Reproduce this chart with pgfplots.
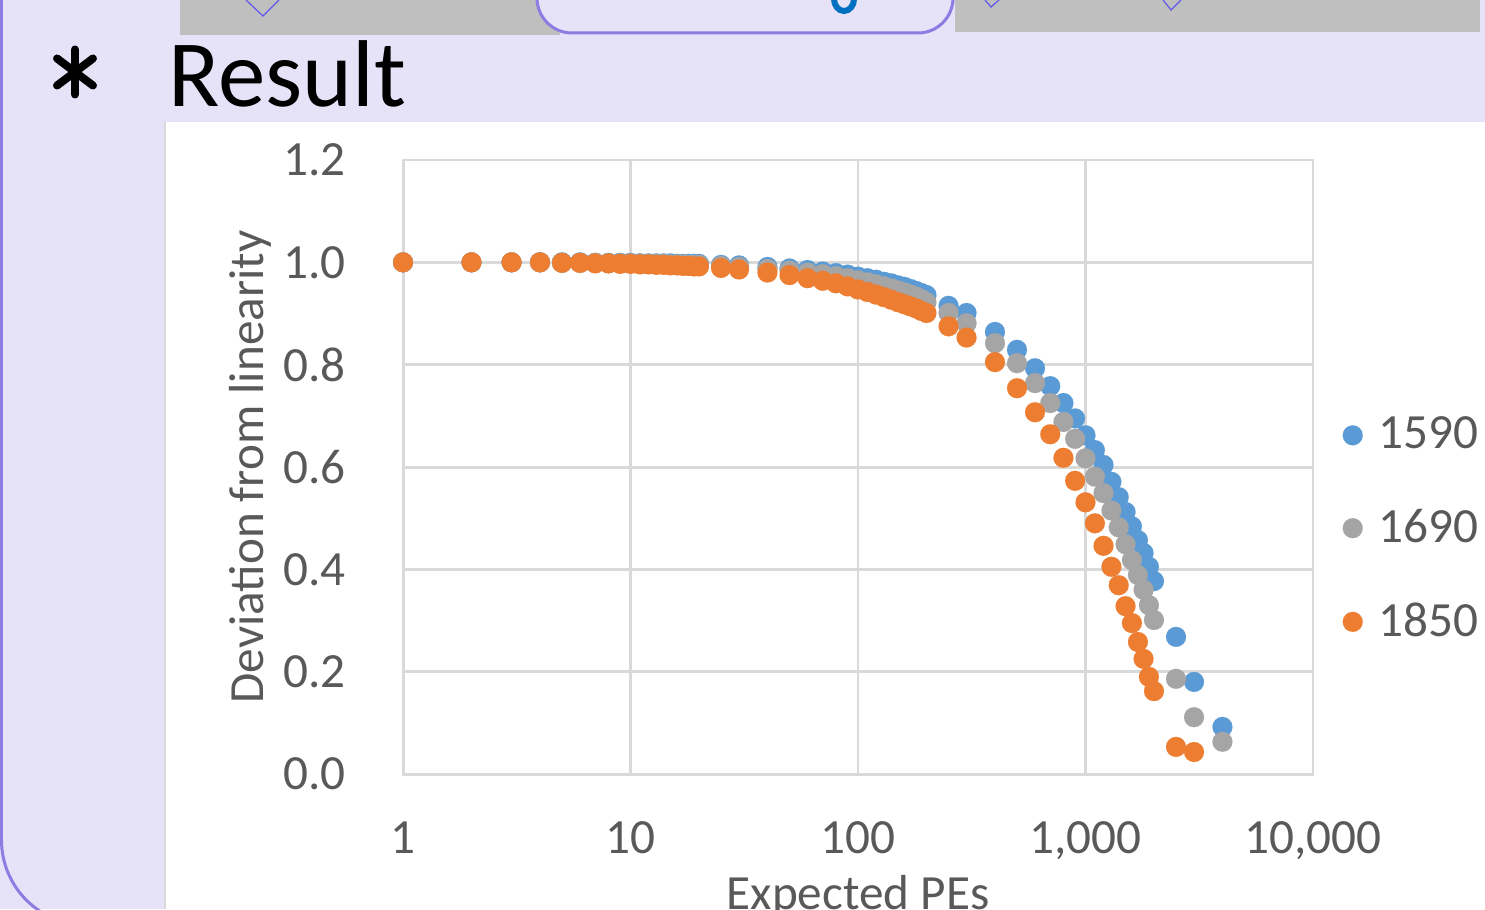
\documentclass[border=0pt]{standalone}
\usepackage{fontspec}
\setmainfont{Carlito}
\usepackage{pgfplots}
\pgfplotsset{compat=1.18}
\definecolor{cblue}{HTML}{5B9BD5}
\definecolor{cgray}{HTML}{A5A5A5}
\definecolor{corange}{HTML}{ED7D31}
\definecolor{ctext}{HTML}{595959}
\definecolor{cgrid}{HTML}{D9D9D9}
\definecolor{lav}{HTML}{E6E3F8}
\definecolor{purp}{HTML}{8E7CE3}
\definecolor{barg}{HTML}{BFBFBF}
\definecolor{glyph}{HTML}{0070C0}
\newcommand{\chartfont}{\fontsize{14pt}{16pt}\selectfont}
\pgfplotsset{dotlegend/.style={legend image code/.code={\draw[##1] plot coordinates {(0cm,0cm)};}}}
\begin{document}
\begin{tikzpicture}
\useasboundingbox (0,0) rectangle (14.85,9.09);
\clip (0,0) rectangle (14.85,9.09);
% slide background
\fill[lav] (0,0) rectangle (14.85,9.09);
\fill[white] (1.65,0) rectangle (14.85,7.87);
\draw[cgrid, line width=0.02cm] (1.645,0) -- (1.645,7.87);
\draw[purp, line width=0.03cm] (0.015,9.2) -- (0.015,0.69) arc[start angle=180, end angle=270, radius=0.85];
\fill[barg] (1.80,9.2) rectangle (5.60,8.74);
\fill[barg] (9.55,9.2) rectangle (14.80,8.77);
\draw[purp, line width=0.03cm, fill=lav, rounded corners=0.35cm] (5.37,9.6) -- (5.37,8.76) -- (9.53,8.76) -- (9.53,9.6);
\draw[purp!70!blue, line width=0.012cm] (2.46,9.09) -- (2.63,8.93) -- (2.79,9.09);
\draw[purp!70!blue, line width=0.012cm] (9.85,9.09) -- (9.91,9.02) -- (9.99,9.09);
\draw[purp!70!blue, line width=0.012cm] (11.63,9.09) -- (11.71,8.99) -- (11.81,9.09);
\draw[glyph, line width=0.06cm] (8.44,9.10) ellipse[x radius=0.10, y radius=0.12];
\foreach \a in {90,37,143} \draw[black, line width=0.08cm, line cap=round] (0.75,8.37) ++(\a:0.225) -- ++(\a+180:0.45);
\node[anchor=base west, inner sep=0pt, font=\fontsize{27pt}{30pt}\selectfont] at (1.68,8.02) {Result};
\begin{axis}[
  at={(4.03cm,1.35cm)}, anchor=south west,
  scale only axis, width=9.10cm, height=6.14cm,
  xmode=log, xmin=1, xmax=10000, ymin=0, ymax=1.2,
  xtick={1,10,100,1000,10000},
  xticklabels={1,10,100,{1,000},{10,000}},
  ytick={0,0.2,0.4,0.6,0.8,1.0,1.2},
  yticklabels={0.0,0.2,0.4,0.6,0.8,1.0,1.2},
  minor x tick num=0, major tick length=0pt, minor tick length=0pt,
  xmajorgrids, ymajorgrids,
  major grid style={cgrid, line width=0.85pt},
  axis line style={cgrid, line width=0.85pt},
  tick label style={font=\chartfont, text=ctext},
  yticklabel style={xshift=-0.45cm},
  xticklabel style={yshift=-0.35cm},
  xlabel={Expected PEs}, ylabel={Deviation from linearity},
  every axis x label/.style={at={(axis description cs:0.5,0)}, anchor=north, yshift=-0.89cm, font=\chartfont, text=ctext},
  every axis y label/.style={at={(axis description cs:-0.131,0.5)}, anchor=south, rotate=90, font=\chartfont, text=ctext},
  clip=false,
  legend style={draw=none, fill=none, at={(1.0319,0.399)}, anchor=west, inner sep=0pt,
    row sep=0.55cm, column sep=0.16cm, font=\chartfont, text=ctext, nodes={inner sep=0pt}},
  legend cell align=left,
]
\addplot[only marks, mark=*, mark size=0.1cm, color=cblue, mark options={fill=cblue, draw=cblue, line width=0.01pt}, dotlegend] table {
x y
1 1.000
2 1.000
3 1.000
4 1.000
5 1.000
6 1.000
7 0.999
8 0.999
9 0.999
10 0.999
11 0.998
12 0.998
13 0.998
14 0.998
15 0.998
16 0.997
17 0.997
18 0.997
19 0.997
20 0.997
25 0.995
30 0.994
40 0.991
50 0.988
60 0.985
70 0.982
80 0.979
90 0.976
100 0.972
110 0.969
120 0.966
130 0.962
140 0.959
150 0.955
160 0.952
170 0.948
180 0.944
190 0.940
200 0.936
250 0.915
300 0.901
400 0.864
500 0.829
600 0.793
700 0.758
800 0.725
900 0.695
1000 0.662
1100 0.633
1200 0.604
1300 0.571
1400 0.541
1500 0.512
1600 0.484
1700 0.457
1800 0.432
1900 0.405
2000 0.377
2500 0.268
3000 0.180
4000 0.092
};
\addlegendentry{1590}
\addplot[only marks, mark=*, mark size=0.1cm, color=cgray, mark options={fill=cgray, draw=cgray, line width=0.01pt}, dotlegend] table {
x y
1 1.000
2 1.000
3 1.000
4 1.000
5 0.999
6 0.999
7 0.999
8 0.998
9 0.998
10 0.998
11 0.998
12 0.997
13 0.997
14 0.997
15 0.996
16 0.996
17 0.996
18 0.995
19 0.995
20 0.995
25 0.993
30 0.991
40 0.987
50 0.984
60 0.980
70 0.977
80 0.973
90 0.969
100 0.965
110 0.961
120 0.957
130 0.953
140 0.949
150 0.945
160 0.941
170 0.937
180 0.933
190 0.928
200 0.922
250 0.901
300 0.881
400 0.842
500 0.803
600 0.764
700 0.725
800 0.688
900 0.655
1000 0.617
1100 0.581
1200 0.549
1300 0.515
1400 0.482
1500 0.449
1600 0.418
1700 0.389
1800 0.360
1900 0.330
2000 0.301
2500 0.186
3000 0.111
4000 0.063
};
\addlegendentry{1690}
\addplot[only marks, mark=*, mark size=0.1cm, color=corange, mark options={fill=corange, draw=corange, line width=0.01pt}, dotlegend] table {
x y
1 1.000
2 1.000
3 1.000
4 1.000
5 0.999
6 0.999
7 0.998
8 0.998
9 0.997
10 0.997
11 0.996
12 0.996
13 0.995
14 0.995
15 0.994
16 0.994
17 0.993
18 0.993
19 0.992
20 0.992
25 0.989
30 0.986
40 0.980
50 0.975
60 0.969
70 0.964
80 0.959
90 0.953
100 0.947
110 0.942
120 0.937
130 0.932
140 0.927
150 0.922
160 0.918
170 0.914
180 0.910
190 0.905
200 0.901
250 0.875
300 0.853
400 0.805
500 0.754
600 0.707
700 0.664
800 0.618
900 0.573
1000 0.531
1100 0.490
1200 0.446
1300 0.405
1400 0.369
1500 0.328
1600 0.295
1700 0.258
1800 0.225
1900 0.190
2000 0.162
2500 0.053
3000 0.043
};
\addlegendentry{1850}
\end{axis}
\end{tikzpicture}
\end{document}
